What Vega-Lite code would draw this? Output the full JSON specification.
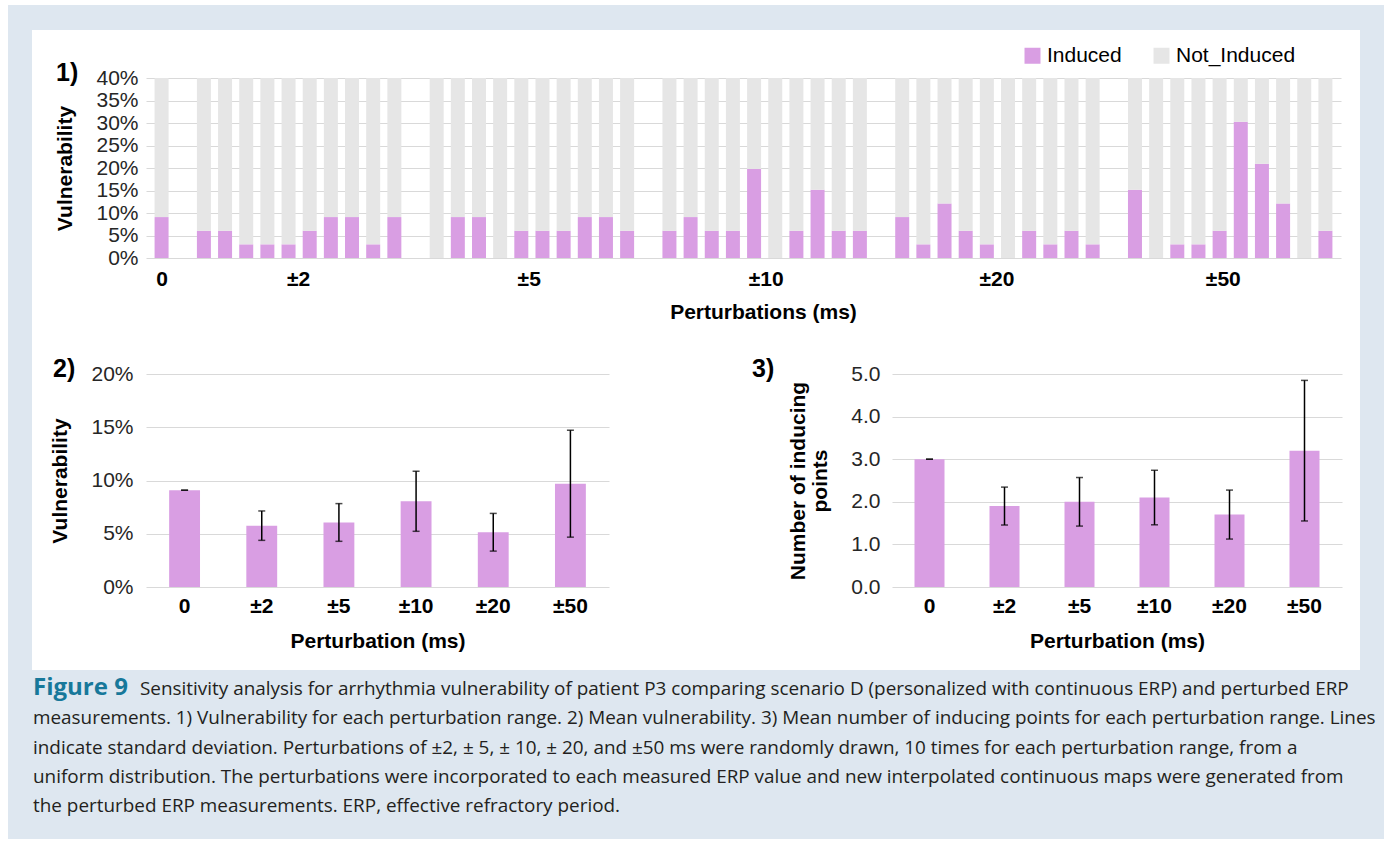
{
  "$schema": "https://vega.github.io/schema/vega-lite/v6.json",
  "background": "white",
  "padding": {"left": 8, "top": 5, "right": 2, "bottom": 2},
  "spacing": 0,
  "config": {
    "view": {"stroke": null},
    "font": "Liberation Sans",
    "axis": {
      "labelFont": "Liberation Sans", "titleFont": "Liberation Sans",
      "labelFontSize": 21, "titleFontSize": 21,
      "labelColor": "#262626", "titleColor": "#000000", "titleFontWeight": "bold",
      "gridColor": "#d9d9d9", "gridWidth": 1, "domain": false, "ticks": false
    },
    "axisX": {"grid": false, "labelFontWeight": "bold", "labelAngle": 0, "labelColor": "#000000"},
    "axisY": {"grid": true},
    "title": {"fontSize": 25, "fontWeight": "bold", "anchor": "start", "frame": "group", "color": "#000000", "font": "Liberation Sans"}
  },
  "datasets": {
    "runs": [
      {"slot": 0, "group": "0", "run": 1, "Induced": 0.0909, "Not_Induced": 0.9091},
      {"slot": 2, "group": "±2", "run": 1, "Induced": 0.0606, "Not_Induced": 0.9394},
      {"slot": 3, "group": "±2", "run": 2, "Induced": 0.0606, "Not_Induced": 0.9394},
      {"slot": 4, "group": "±2", "run": 3, "Induced": 0.0303, "Not_Induced": 0.9697},
      {"slot": 5, "group": "±2", "run": 4, "Induced": 0.0303, "Not_Induced": 0.9697},
      {"slot": 6, "group": "±2", "run": 5, "Induced": 0.0303, "Not_Induced": 0.9697},
      {"slot": 7, "group": "±2", "run": 6, "Induced": 0.0606, "Not_Induced": 0.9394},
      {"slot": 8, "group": "±2", "run": 7, "Induced": 0.0909, "Not_Induced": 0.9091},
      {"slot": 9, "group": "±2", "run": 8, "Induced": 0.0909, "Not_Induced": 0.9091},
      {"slot": 10, "group": "±2", "run": 9, "Induced": 0.0303, "Not_Induced": 0.9697},
      {"slot": 11, "group": "±2", "run": 10, "Induced": 0.0909, "Not_Induced": 0.9091},
      {"slot": 13, "group": "±5", "run": 1, "Induced": 0, "Not_Induced": 1},
      {"slot": 14, "group": "±5", "run": 2, "Induced": 0.0909, "Not_Induced": 0.9091},
      {"slot": 15, "group": "±5", "run": 3, "Induced": 0.0909, "Not_Induced": 0.9091},
      {"slot": 16, "group": "±5", "run": 4, "Induced": 0, "Not_Induced": 1},
      {"slot": 17, "group": "±5", "run": 5, "Induced": 0.0606, "Not_Induced": 0.9394},
      {"slot": 18, "group": "±5", "run": 6, "Induced": 0.0606, "Not_Induced": 0.9394},
      {"slot": 19, "group": "±5", "run": 7, "Induced": 0.0606, "Not_Induced": 0.9394},
      {"slot": 20, "group": "±5", "run": 8, "Induced": 0.0909, "Not_Induced": 0.9091},
      {"slot": 21, "group": "±5", "run": 9, "Induced": 0.0909, "Not_Induced": 0.9091},
      {"slot": 22, "group": "±5", "run": 10, "Induced": 0.0606, "Not_Induced": 0.9394},
      {"slot": 24, "group": "±10", "run": 1, "Induced": 0.0606, "Not_Induced": 0.9394},
      {"slot": 25, "group": "±10", "run": 2, "Induced": 0.0909, "Not_Induced": 0.9091},
      {"slot": 26, "group": "±10", "run": 3, "Induced": 0.0606, "Not_Induced": 0.9394},
      {"slot": 27, "group": "±10", "run": 4, "Induced": 0.0606, "Not_Induced": 0.9394},
      {"slot": 28, "group": "±10", "run": 5, "Induced": 0.198, "Not_Induced": 0.802},
      {"slot": 29, "group": "±10", "run": 6, "Induced": 0, "Not_Induced": 1},
      {"slot": 30, "group": "±10", "run": 7, "Induced": 0.0606, "Not_Induced": 0.9394},
      {"slot": 31, "group": "±10", "run": 8, "Induced": 0.1515, "Not_Induced": 0.8485},
      {"slot": 32, "group": "±10", "run": 9, "Induced": 0.0606, "Not_Induced": 0.9394},
      {"slot": 33, "group": "±10", "run": 10, "Induced": 0.0606, "Not_Induced": 0.9394},
      {"slot": 35, "group": "±20", "run": 1, "Induced": 0.0909, "Not_Induced": 0.9091},
      {"slot": 36, "group": "±20", "run": 2, "Induced": 0.0303, "Not_Induced": 0.9697},
      {"slot": 37, "group": "±20", "run": 3, "Induced": 0.1212, "Not_Induced": 0.8788},
      {"slot": 38, "group": "±20", "run": 4, "Induced": 0.0606, "Not_Induced": 0.9394},
      {"slot": 39, "group": "±20", "run": 5, "Induced": 0.0303, "Not_Induced": 0.9697},
      {"slot": 40, "group": "±20", "run": 6, "Induced": 0, "Not_Induced": 1},
      {"slot": 41, "group": "±20", "run": 7, "Induced": 0.0606, "Not_Induced": 0.9394},
      {"slot": 42, "group": "±20", "run": 8, "Induced": 0.0303, "Not_Induced": 0.9697},
      {"slot": 43, "group": "±20", "run": 9, "Induced": 0.0606, "Not_Induced": 0.9394},
      {"slot": 44, "group": "±20", "run": 10, "Induced": 0.0303, "Not_Induced": 0.9697},
      {"slot": 46, "group": "±50", "run": 1, "Induced": 0.1515, "Not_Induced": 0.8485},
      {"slot": 47, "group": "±50", "run": 2, "Induced": 0, "Not_Induced": 1},
      {"slot": 48, "group": "±50", "run": 3, "Induced": 0.0303, "Not_Induced": 0.9697},
      {"slot": 49, "group": "±50", "run": 4, "Induced": 0.0303, "Not_Induced": 0.9697},
      {"slot": 50, "group": "±50", "run": 5, "Induced": 0.0606, "Not_Induced": 0.9394},
      {"slot": 51, "group": "±50", "run": 6, "Induced": 0.303, "Not_Induced": 0.697},
      {"slot": 52, "group": "±50", "run": 7, "Induced": 0.2096, "Not_Induced": 0.7904},
      {"slot": 53, "group": "±50", "run": 8, "Induced": 0.1212, "Not_Induced": 0.8788},
      {"slot": 54, "group": "±50", "run": 9, "Induced": 0, "Not_Induced": 1},
      {"slot": 55, "group": "±50", "run": 10, "Induced": 0.0606, "Not_Induced": 0.9394}
    ],
    "summary": [
      {"Perturbation": "0", "Vulnerability": 0.0909, "VulnSD": 0, "Points": 3.0, "PointsSD": 0},
      {"Perturbation": "±2", "Vulnerability": 0.0576, "VulnSD": 0.0138, "Points": 1.9, "PointsSD": 0.445},
      {"Perturbation": "±5", "Vulnerability": 0.0606, "VulnSD": 0.0177, "Points": 2.0, "PointsSD": 0.57},
      {"Perturbation": "±10", "Vulnerability": 0.0805, "VulnSD": 0.0282, "Points": 2.1, "PointsSD": 0.64},
      {"Perturbation": "±20", "Vulnerability": 0.0514, "VulnSD": 0.0177, "Points": 1.7, "PointsSD": 0.575},
      {"Perturbation": "±50", "Vulnerability": 0.097, "VulnSD": 0.0502, "Points": 3.2, "PointsSD": 1.65}
    ],
    "caption": [
      {"block": "caption", "line": 1, "part": "label", "text": "Figure 9"},
      {"block": "caption", "line": 1, "part": "lead", "text": "Sensitivity analysis for arrhythmia vulnerability of patient P3 comparing scenario D (personalized with continuous ERP) and perturbed ERP"},
      {"block": "caption", "line": 2, "part": "body", "text": "measurements. 1) Vulnerability for each perturbation range. 2) Mean vulnerability. 3) Mean number of inducing points for each perturbation range. Lines"},
      {"block": "caption", "line": 3, "part": "body", "text": "indicate standard deviation. Perturbations of ±2,  ± 5,  ± 10,  ± 20, and ±50 ms were randomly drawn, 10 times for each perturbation range, from a"},
      {"block": "caption", "line": 4, "part": "body", "text": "uniform distribution. The perturbations were incorporated to each measured ERP value and new interpolated continuous maps were generated from"},
      {"block": "caption", "line": 5, "part": "body", "text": "the perturbed ERP measurements. ERP, effective refractory period."}
    ]
  },
  "vconcat": [
    {
      "spacing": 0,
      "hconcat": [
        {"width": 24, "height": 665, "data": {"values": []}, "mark": "point", "encoding": {}, "view": {"fill": "#dee7f0", "stroke": null}},
        {
          "spacing": 31,
          "vconcat": [
            {"width": 1328, "height": 25, "data": {"values": []}, "mark": "point", "encoding": {}, "view": {"fill": "#dee7f0", "stroke": null}},
            {
              "spacing": 16,
              "hconcat": [
                {"width": 1, "height": 1, "data": {"values": []}, "mark": "point", "encoding": {}},
                {
                  "spacing": 35,
                  "vconcat": [
                    {
                      "width": 1195, "height": 180,
                      "title": {"text": "1)", "dx": -90, "dy": 23},
                      "data": {"name": "runs"},
                      "transform": [{"fold": ["Induced", "Not_Induced"], "as": ["Outcome", "Share"]}],
                      "mark": {"type": "bar", "size": 14, "clip": true},
                      "encoding": {
                        "x": {
                          "field": "slot", "type": "quantitative",
                          "scale": {"domain": [-0.5, 55.5], "nice": false, "zero": false},
                          "axis": {
                            "title": "Perturbations (ms)", "titleX": 617,
                            "values": [0, 6.45, 17.35, 28.55, 39.45, 50.15],
                            "labelExpr": "datum.value < 3 ? '0' : datum.value < 12 ? '±2' : datum.value < 23 ? '±5' : datum.value < 34 ? '±10' : datum.value < 45 ? '±20' : '±50'",
                            "labelFlush": false, "labelOverlap": false, "labelBound": false,
                            "labelPadding": 10, "titlePadding": 12
                          }
                        },
                        "y": {
                          "field": "Share", "type": "quantitative", "stack": "zero",
                          "scale": {"domain": [0, 0.4], "nice": false},
                          "axis": {
                            "title": "Vulnerability",
                            "values": [0, 0.05, 0.1, 0.15, 0.2, 0.25, 0.3, 0.35, 0.4],
                            "format": ".0%", "labelPadding": 8, "titlePadding": 20
                          }
                        },
                        "color": {
                          "field": "Outcome", "type": "nominal",
                          "scale": {"domain": ["Induced", "Not_Induced"], "range": ["#d99ee3", "#e6e6e6"]},
                          "legend": {
                            "title": null, "orient": "none", "legendX": 1014, "legendY": 40,
                            "direction": "horizontal", "symbolType": "square", "symbolSize": 256,
                            "symbolStrokeWidth": 0, "labelFontSize": 21, "labelFont": "Liberation Sans",
                            "labelColor": "#000000", "labelOffset": 4, "columnPadding": 29, "padding": 0
                          }
                        },
                        "order": {"field": "Outcome", "sort": "ascending"}
                      }
                    },
                    {
                      "spacing": 143,
                      "hconcat": [
                        {
                          "width": 463, "height": 213,
                          "title": {"text": "2)", "dx": -93, "dy": 23},
                          "data": {"name": "summary"},
                          "encoding": {
                            "x": {
                              "field": "Perturbation", "type": "nominal", "sort": null,
                              "scale": {"paddingInner": 0, "paddingOuter": 0},
                              "axis": {"title": "Perturbation (ms)", "labelPadding": 8, "titlePadding": 14}
                            }
                          },
                          "layer": [
                            {
                              "mark": {"type": "bar", "width": {"band": 0.4}, "color": "#d99ee3"},
                              "encoding": {
                                "y": {
                                  "field": "Vulnerability", "type": "quantitative",
                                  "scale": {"domain": [0, 0.2], "nice": false},
                                  "axis": {"title": "Vulnerability", "values": [0, 0.05, 0.1, 0.15, 0.2], "format": ".0%", "labelPadding": 13, "titlePadding": 20}
                                }
                              }
                            },
                            {
                              "mark": {"type": "errorbar", "color": "#000000", "thickness": 1.5, "ticks": {"size": 7, "thickness": 1.5, "color": "#000000"}},
                              "encoding": {
                                "y": {"field": "Vulnerability", "type": "quantitative", "title": "Vulnerability"},
                                "yError": {"field": "VulnSD"}
                              }
                            }
                          ]
                        },
                        {
                          "width": 450, "height": 213,
                          "title": {"text": "3)", "dx": -140, "dy": 23},
                          "data": {"name": "summary"},
                          "encoding": {
                            "x": {
                              "field": "Perturbation", "type": "nominal", "sort": null,
                              "scale": {"paddingInner": 0, "paddingOuter": 0},
                              "axis": {"title": "Perturbation (ms)", "labelPadding": 8, "titlePadding": 14}
                            }
                          },
                          "layer": [
                            {
                              "mark": {"type": "bar", "width": {"band": 0.4}, "color": "#d99ee3"},
                              "encoding": {
                                "y": {
                                  "field": "Points", "type": "quantitative",
                                  "scale": {"domain": [0, 5], "nice": false},
                                  "axis": {"title": ["Number of inducing", "points"], "titleLineHeight": 22, "values": [0, 1, 2, 3, 4, 5], "format": ".1f", "labelPadding": 12, "titlePadding": 20}
                                }
                              }
                            },
                            {
                              "mark": {"type": "errorbar", "color": "#000000", "thickness": 1.5, "ticks": {"size": 7, "thickness": 1.5, "color": "#000000"}},
                              "encoding": {
                                "y": {"field": "Points", "type": "quantitative", "title": ["Number of inducing", "points"]},
                                "yError": {"field": "PointsSD"}
                              }
                            }
                          ]
                        }
                      ]
                    }
                  ]
                }
              ]
            }
          ]
        },
        {"width": 24, "height": 665, "data": {"values": []}, "mark": "point", "encoding": {}, "view": {"fill": "#dee7f0", "stroke": null}}
      ]
    },
    {
      "width": 1376, "height": 169,
      "view": {"fill": "#dee7f0", "stroke": null},
      "data": {"name": "caption"},
      "encoding": {
        "x": {"field": "block", "type": "nominal", "scale": {"type": "point", "padding": 0, "align": 0}, "axis": null},
        "y": {"field": "line", "type": "ordinal", "scale": {"type": "point", "domain": [1, 2, 3, 4, 5], "range": [25, 142], "padding": 0}, "axis": null},
        "text": {"field": "text"}
      },
      "layer": [
        {
          "transform": [{"filter": "datum.part == 'label'"}],
          "mark": {"type": "text", "align": "left", "baseline": "alphabetic", "font": "Open Sans", "fontWeight": "bold", "fontSize": 24, "color": "#17789a", "dx": 25}
        },
        {
          "transform": [{"filter": "datum.part == 'lead'"}],
          "mark": {"type": "text", "align": "left", "baseline": "alphabetic", "font": "Open Sans", "fontSize": 18.9, "color": "#231f20", "dx": 132}
        },
        {
          "transform": [{"filter": "datum.part == 'body'"}],
          "mark": {"type": "text", "align": "left", "baseline": "alphabetic", "font": "Open Sans", "fontSize": 18.9, "color": "#231f20", "dx": 25}
        }
      ]
    }
  ]
}
